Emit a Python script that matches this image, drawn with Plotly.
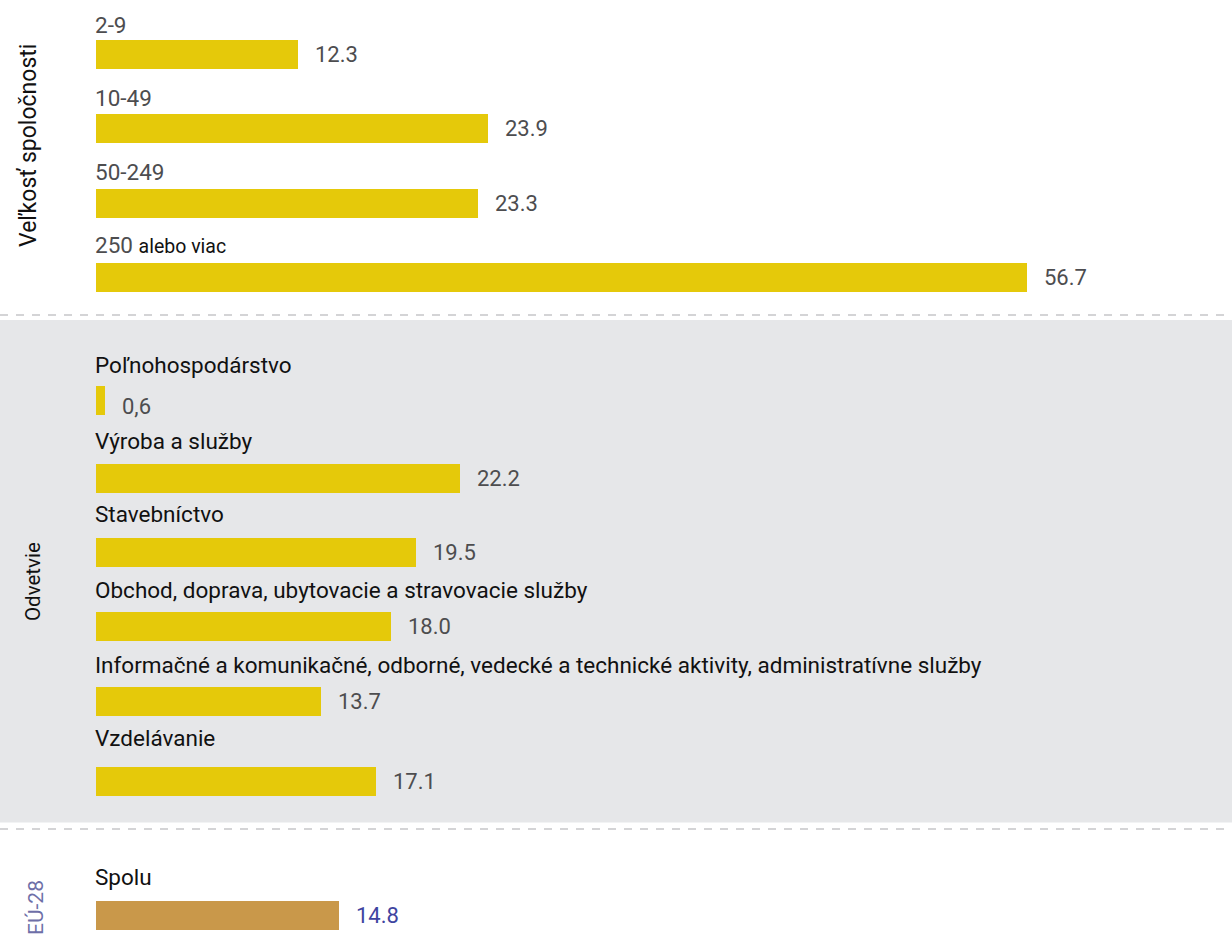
import plotly.graph_objects as go

# --- data -------------------------------------------------------------
size_labels = ["2-9", "10-49", "50-249", "250"]
size_values = [12.3, 23.9, 23.3, 56.7]

sector_labels = [
    "Poľnohospodárstvo",
    "Výroba a služby",
    "Stavebníctvo",
    "Obchod, doprava, ubytovacie a stravovacie služby",
    "Informačné a komunikačné, odborné, vedecké a technické aktivity, administratívne služby",
    "Vzdelávanie",
]
sector_values = [0.6, 22.2, 19.5, 18.0, 13.7, 17.1]

eu_labels = ["Spolu"]
eu_values = [14.8]

group_titles = ["Veľkosť spoločnosti", "Odvetvie", "EÚ-28"]

# --- layout constants (pixel grid of the 1232x937 canvas) -------------
W, H = 1232, 937
X0_PX = 95.5          # left edge of the bars
PX_PER_UNIT = 16.43   # horizontal scale
BAR_H = 29

size_rows = [54.5, 128.5, 203.5, 277.5]
size_label_y = [25, 98, 172, 245]
sector_rows = [400.5, 478.5, 552.5, 626.5, 701.5, 781.5]
sector_label_y = [365, 441, 514, 590, 665, 738]
eu_rows = [915.5]
eu_label_y = [877]

YELLOW = "#E5C90A"
TAN = "#C9984A"
VALUE_GREY = "#4D4D4F"
LABEL_GREY = "#4D4D4F"
BLUE = "#3E44A0"
TITLE_BLUE = "#6E6FA8"
PANEL_GREY = "#E6E7E9"
FONT = "Roboto"
LABEL_SIZE = 22.5
VALUE_SIZE = 22


def fmt(v, comma=False):
    s = f"{v:.1f}"
    return s.replace(".", ",") if comma else s


fig = go.Figure()

fig.add_trace(go.Bar(
    x=size_values + sector_values,
    y=size_rows + sector_rows,
    orientation="h", width=BAR_H,
    marker=dict(color=YELLOW, line=dict(width=0)),
    hoverinfo="skip", showlegend=False,
))
fig.add_trace(go.Bar(
    x=eu_values, y=eu_rows,
    orientation="h", width=BAR_H,
    marker=dict(color=TAN, line=dict(width=0)),
    hoverinfo="skip", showlegend=False,
))

ann = []


def label(text, y, color, size=LABEL_SIZE):
    ann.append(dict(x=0, y=y, xref="x", yref="y", text=text, showarrow=False,
                    xanchor="left", yanchor="middle", xshift=-3,
                    font=dict(family=FONT, size=size, color=color)))


def value(v, y, color, comma=False):
    ann.append(dict(x=v, y=y, xref="x", yref="y", text=fmt(v, comma),
                    showarrow=False, xanchor="left", yanchor="middle",
                    xshift=15, font=dict(family=FONT, size=VALUE_SIZE, color=color)))


# company size group
for i, (lab, v, y, ly) in enumerate(zip(size_labels, size_values, size_rows, size_label_y)):
    text = lab
    if i == len(size_labels) - 1:
        text = lab + " <span style='font-size:19.5px;color:#111111'>alebo viac</span>"
    label(text, ly, LABEL_GREY)
    value(v, y, VALUE_GREY)

# sector group
for lab, v, y, ly in zip(sector_labels, sector_values, sector_rows, sector_label_y):
    label(lab, ly, "#111111")
    value(v, y + 6 if v < 1 else y, VALUE_GREY, comma=v < 1)

# EU total
for lab, v, y, ly in zip(eu_labels, eu_values, eu_rows, eu_label_y):
    label(lab, ly, "#111111")
    value(v, y, BLUE)

# rotated group titles
for title, (cx, cy), size, color in zip(group_titles,
                                        [(28, 146), (33, 582), (36, 908)],
                                        [23, 20.5, 21],
                                        ["#111111", "#111111", TITLE_BLUE]):
    ann.append(dict(x=cx / W, y=cy, xref="paper", yref="y", text=title,
                    textangle=-90, showarrow=False, xanchor="center",
                    yanchor="middle",
                    font=dict(family=FONT, size=size, color=color)))

shapes = [
    dict(type="rect", xref="paper", yref="y", x0=0, x1=1, y0=320, y1=822.5,
         fillcolor=PANEL_GREY, line=dict(width=0), layer="below"),
    dict(type="line", xref="paper", yref="y", x0=0, x1=1, y0=315, y1=315,
         line=dict(color="#D4D4D6", width=2, dash="8px,8px")),
    dict(type="line", xref="paper", yref="y", x0=0, x1=1, y0=829, y1=829,
         line=dict(color="#D4D4D6", width=2, dash="8px,8px")),
]

fig.update_layout(
    width=W, height=H,
    margin=dict(l=0, r=0, t=0, b=0),
    paper_bgcolor="white", plot_bgcolor="rgba(0,0,0,0)",
    xaxis=dict(range=[-X0_PX / PX_PER_UNIT, (W - X0_PX) / PX_PER_UNIT],
               visible=False, fixedrange=True),
    yaxis=dict(range=[H, 0], visible=False, fixedrange=True),
    annotations=ann, shapes=shapes,
    bargap=0,
)

fig.write_html("out.html")
